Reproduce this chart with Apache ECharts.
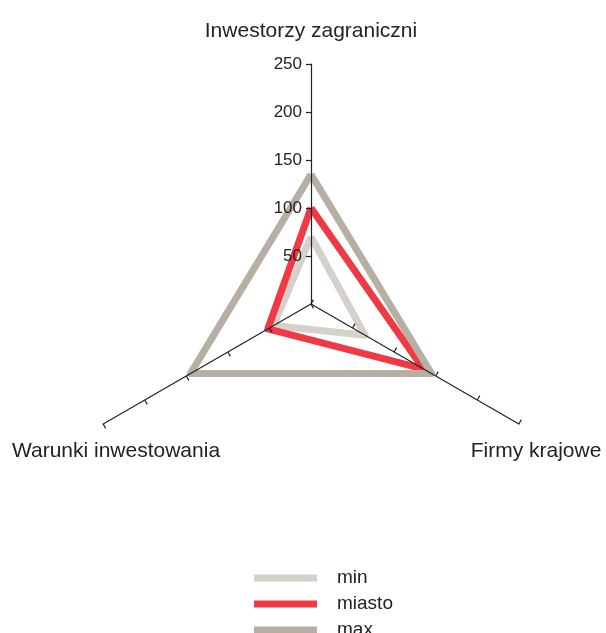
<!DOCTYPE html>
<html>
<head>
<meta charset="utf-8">
<script src="https://cdn.jsdelivr.net/npm/echarts@6/dist/echarts.min.js"></script>
<style>
  html, body { margin: 0; padding: 0; background: #fff; }
  #chart { width: 606px; height: 633px; }
</style>
</head>
<body>
<div id="chart"></div>
<script>
var axisNames = ['Inwestorzy zagraniczni', 'Warunki inwestowania', 'Firmy krajowe']
var axisMax = 250
var seriesNames = ['min', 'miasto', 'max']
var minValues = [70, 45, 65]
var miastoValues = [100, 52, 135]
var maxValues = [135, 145, 145]
var colors = ['#d5d0c9', '#ef3a45', '#b7afa4']

var font = '"Liberation Sans", Arial, Helvetica, sans-serif'

var chart = echarts.init(document.getElementById('chart'))

var indicator = axisNames.map(function (name, i) {
  var ind = { name: name, min: 0, max: axisMax }
  if (i === 0) ind.axisLabel = { show: true }
  return ind
})

var valueSets = [minValues, miastoValues, maxValues]

// axis names placed by hand, radar's own layout puts them elsewhere
var namePos = [[311, 31], [116, 451], [536, 451]]

var option = {
  animation: false,
  color: colors,
  radar: {
    center: [311, 304],
    radius: 240,
    z: 3,
    splitNumber: 5,
    indicator: indicator,
    axisName: { show: false },
    axisLine: { lineStyle: { color: '#222', width: 1.2 } },
    axisTick: { show: true, length: 5, lineStyle: { color: '#222', width: 1.2 } },
    axisLabel: {
      show: false,
      color: '#222',
      fontSize: 17,
      fontFamily: font,
      margin: 9,
      showMinLabel: false,
      formatter: function (v) { return v === 0 ? '' : v }
    },
    splitLine: { show: false },
    splitArea: { show: false }
  },
  legend: {
    orient: 'vertical',
    left: 249,
    top: 563,
    height: 120,
    icon: 'rect',
    itemWidth: 63,
    itemHeight: 7,
    itemGap: 6,
    data: seriesNames,
    textStyle: {
      color: '#222',
      fontSize: 19,
      lineHeight: 20,
      fontFamily: font,
      padding: [0, 0, 0, 15]
    }
  },
  graphic: axisNames.map(function (name, i) {
    return {
      type: 'text',
      x: namePos[i][0],
      y: namePos[i][1],
      style: {
        text: name,
        fill: '#222',
        font: '21px ' + font,
        textAlign: 'center',
        textVerticalAlign: 'middle'
      }
    }
  }),
  series: [{
    type: 'radar',
    symbol: 'none',
    data: seriesNames.map(function (name, i) {
      return {
        name: name,
        value: valueSets[i],
        lineStyle: { color: colors[i], width: 7 },
        itemStyle: { color: colors[i] }
      }
    })
  }]
}

chart.setOption(option)
</script>
</body>
</html>
